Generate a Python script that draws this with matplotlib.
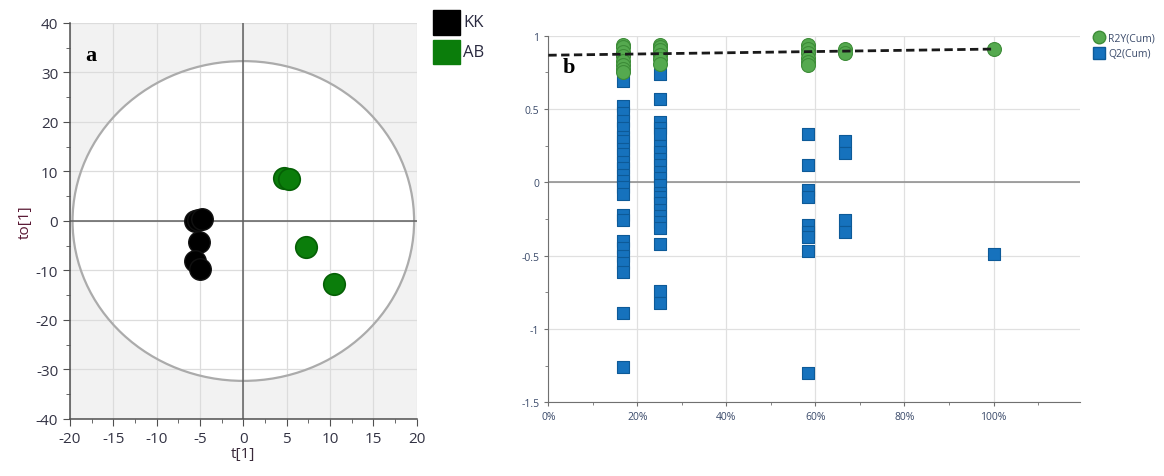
import numpy as np
import matplotlib
matplotlib.use("Agg")
import matplotlib.pyplot as plt
from matplotlib.patches import Ellipse, Rectangle
from matplotlib.ticker import MultipleLocator, PercentFormatter
from matplotlib.lines import Line2D

plt.rcParams['font.family'] = ['Open Sans', 'DejaVu Sans']
plt.rcParams['axes.unicode_minus'] = False

# --- panel a: score plot data ---
kk_t1 = [-5.6, -5.2, -4.8, -5.1, -5.6, -5.0]
kk_to1 = [0.1, 0.3, 0.5, -4.2, -8.0, -9.6]
ab_t1 = [4.7, 5.3, 7.2, 10.5]
ab_to1 = [8.6, 8.5, -5.2, -12.8]
t2_radius_x = 19.7
t2_radius_y = 32.3

# --- panel b: permutation test data ---
perm_x = [0.167, 0.25, 0.583, 0.667, 1.0]
r2y_groups = [
    [0.94, 0.92, 0.89, 0.86, 0.83, 0.80, 0.77, 0.75],
    [0.94, 0.92, 0.90, 0.87, 0.84, 0.81],
    [0.94, 0.91, 0.88, 0.85, 0.82, 0.80],
    [0.91, 0.88],
    [0.91],
]
q2_groups = [
    [0.69, 0.52, 0.47, 0.42, 0.37, 0.31, 0.28, 0.23, 0.19, 0.14, 0.10, 0.05,
     0.01, -0.03, -0.08, -0.22, -0.26, -0.40, -0.45, -0.50, -0.55, -0.61,
     -0.89, -1.26],
    [0.74, 0.57, 0.41, 0.37, 0.33, 0.25, 0.21, 0.16, 0.12, 0.07, 0.03, -0.02,
     -0.07, -0.10, -0.14, -0.19, -0.23, -0.27, -0.31, -0.42, -0.74, -0.82],
    [0.33, 0.12, -0.05, -0.10, -0.29, -0.34, -0.37, -0.47, -1.30],
    [0.28, 0.20, -0.26, -0.34],
    [-0.49],
]
r2_line_x = [0.0, 1.0]
r2_line_y = [0.867, 0.909]

fig = plt.figure(figsize=(11.64, 4.77), dpi=100)

# ================= panel a =================
ax = fig.add_axes([0.0601, 0.1195, 0.2979, 0.8302])
ax.set_facecolor('#f2f2f2')
ax.add_patch(Ellipse((0, 0), 2 * t2_radius_x, 2 * t2_radius_y,
                     facecolor='white', edgecolor='none', zorder=0.1))
ax.add_patch(Ellipse((0, 0), 2 * t2_radius_x, 2 * t2_radius_y,
                     facecolor='none', edgecolor='#ababab', lw=1.6, zorder=1.5))
ax.set_axisbelow(True)
ax.grid(True, color='#dcdcdc', lw=0.9)
ax.axhline(0, color='#606060', lw=1.1, zorder=1.6)
ax.axvline(0, color='#606060', lw=1.1, zorder=1.6)

ax.scatter(kk_t1, kk_to1, s=240, color='black', edgecolor='#111111', zorder=3)
ax.scatter(ab_t1, ab_to1, s=240, color='#0b7d0b', edgecolor='#056005',
           lw=1.2, zorder=3)

ax.set_xlim(-20, 20)
ax.set_ylim(-40, 40)
ax.xaxis.set_major_locator(MultipleLocator(5))
ax.xaxis.set_minor_locator(MultipleLocator(2.5))
ax.yaxis.set_major_locator(MultipleLocator(10))
ax.yaxis.set_minor_locator(MultipleLocator(5))
for s in ['top', 'right']:
    ax.spines[s].set_visible(False)
for s in ['left', 'bottom']:
    ax.spines[s].set_color('#505050')
    ax.spines[s].set_linewidth(1.1)
ax.tick_params(which='major', length=5, color='#505050', labelsize=11,
               labelcolor='#333344')
ax.tick_params(which='minor', length=3, color='#505050')
ax.set_xlabel('t[1]', fontsize=11, color='#3a2a3a', labelpad=0)
ax.set_ylabel('to[1]', fontsize=11, color='#5a1a35', labelpad=2)
ax.text(-17.6, 33.5, 'a', family='Liberation Serif', fontweight='bold',
        fontsize=16, va='center', ha='center')

# legend for panel a
lax = fig.add_axes([0.37, 0.85, 0.08, 0.13])
lax.axis('off')
lax.set_xlim(0, 1)
lax.set_ylim(0, 1)
lax.add_patch(Rectangle((0.03, 0.58), 0.29, 0.40, color='black'))
lax.add_patch(Rectangle((0.03, 0.10), 0.29, 0.40, color='#0b7d0b'))
lax.text(0.35, 0.78, 'KK', fontsize=12, va='center', color='#2a2a40')
lax.text(0.35, 0.30, 'AB', fontsize=12, va='center', color='#2a2a40')

# ================= panel b =================
bx = fig.add_axes([0.4711, 0.1545, 0.4570, 0.7685])
bx.set_axisbelow(True)
bx.grid(True, color='#e0e0e0', lw=0.9)
bx.axhline(0, color='#8a8a8a', lw=1.1, zorder=1)

for xv, ys in zip(perm_x, q2_groups):
    bx.scatter([xv] * len(ys), ys, marker='s', s=85, color='#1672bd',
               edgecolor='#0d5a98', lw=0.8, zorder=3, clip_on=False)
for xv, ys in zip(perm_x, r2y_groups):
    bx.scatter([xv] * len(ys), ys, marker='o', s=100, color='#55a94f',
               edgecolor='#3d8c38', lw=0.8, zorder=4, clip_on=False)
bx.plot(r2_line_x, r2_line_y, ls=(0, (3, 1.6)), color='#1a1a1a', lw=2,
        zorder=5, clip_on=False)

bx.set_xlim(0, 1.195)
bx.set_ylim(-1.5, 1.0)
bx.xaxis.set_major_locator(MultipleLocator(0.2))
bx.xaxis.set_minor_locator(MultipleLocator(0.1))
bx.yaxis.set_major_locator(MultipleLocator(0.5))
bx.yaxis.set_minor_locator(MultipleLocator(0.25))
bx.xaxis.set_major_formatter(PercentFormatter(xmax=1, decimals=0))
bx.yaxis.set_major_formatter(plt.FuncFormatter(lambda v, p: f'{v:g}'))
for s in ['top', 'right']:
    bx.spines[s].set_visible(False)
for s in ['left', 'bottom']:
    bx.spines[s].set_color('#707070')
bx.tick_params(which='major', length=3, color='#707070', labelsize=7.5,
               labelcolor='#3a4a6a')
bx.tick_params(which='minor', length=2, color='#707070')
bx.text(0.045, 0.79, 'b', family='Liberation Serif', fontweight='bold',
        fontsize=16, va='center', ha='center')

handles = [
    Line2D([], [], marker='o', ls='none', markersize=9, color='#55a94f',
           markeredgecolor='#3d8c38', label='R2Y(Cum)'),
    Line2D([], [], marker='s', ls='none', markersize=8, color='#1672bd',
           markeredgecolor='#0d5a98', label='Q2(Cum)'),
]
fig.legend(handles=handles, loc='upper left', bbox_to_anchor=(0.936, 0.938),
           frameon=False, fontsize=7.5, handletextpad=0.4, labelspacing=0.45,
           handlelength=1.0, borderaxespad=0, labelcolor='#3a4a6a')

fig.savefig('out.png', dpi=100)
